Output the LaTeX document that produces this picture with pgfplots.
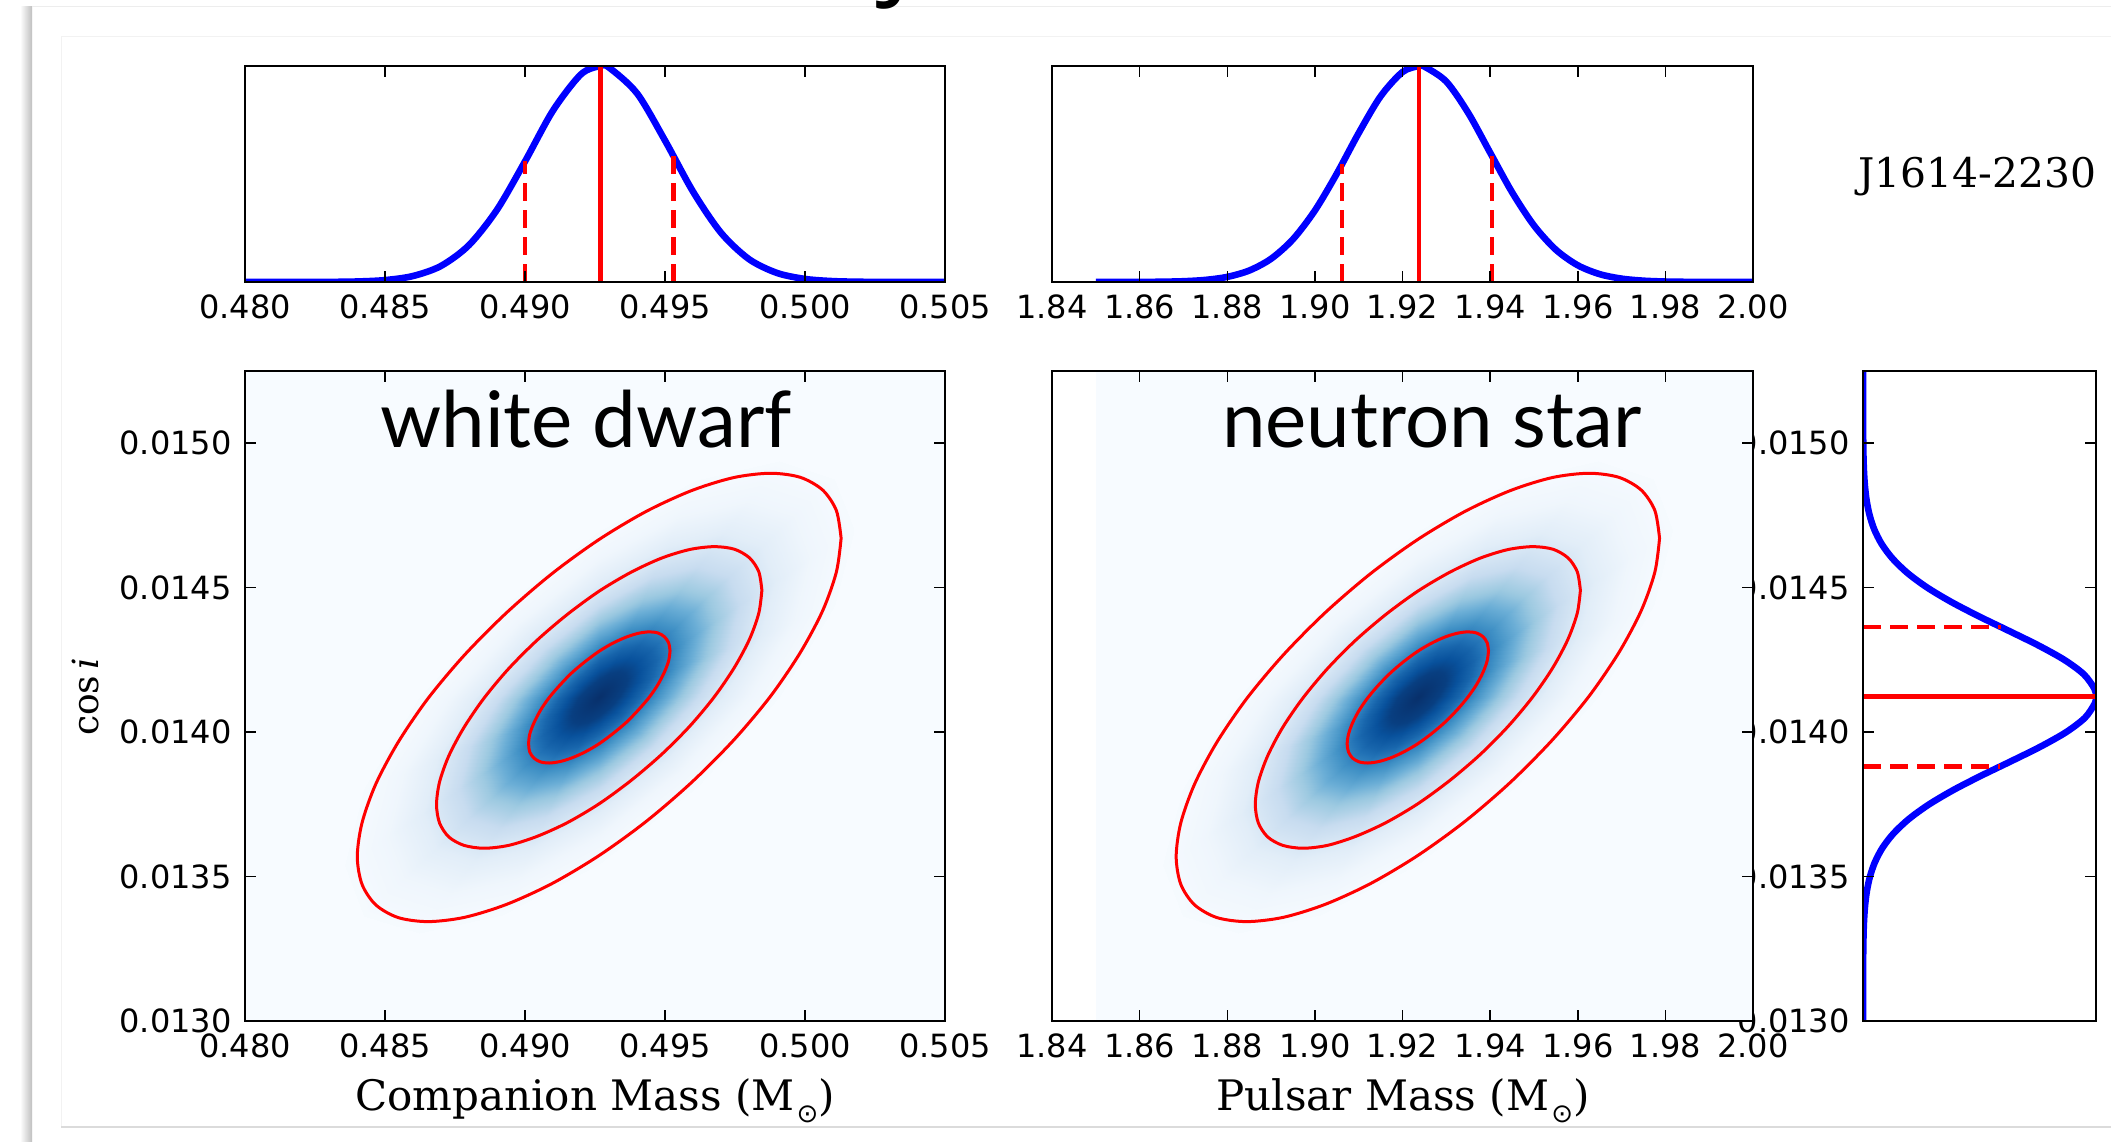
\documentclass[border=0pt]{standalone}
\usepackage{pgfplots}
\pgfplotsset{compat=1.18}
\usepackage{pgfplotstable}
\usepackage{fontspec}
\setmainfont{DejaVu Serif}
\newfontfamily\dvsans{DejaVu Sans}
\newfontfamily\gill{Lato}
\newfontfamily\titlefont{Open Sans}
\newcommand\tickfont{\dvsans\fontsize{16bp}{19bp}\selectfont}
\definecolor{blues0}{RGB}{247,251,255}

\pgfplotsset{
  colormap={blues}{rgb255=(247,251,255) rgb255=(222,235,247) rgb255=(198,219,239)
    rgb255=(158,202,225) rgb255=(107,174,214) rgb255=(66,146,198) rgb255=(33,113,181)
    rgb255=(8,81,156) rgb255=(8,48,107)},
  mpl/.style={scale only axis, anchor=south west, axis on top,
    scaled x ticks=false, scaled y ticks=false,
    tick align=inside, major tick length=5.5bp,
    tick style={line width=0.75bp, black},
    axis line style={line width=1.2bp, black},
    xticklabel style={font=\tickfont, inner sep=0pt, yshift=-6bp},
    yticklabel style={font=\tickfont, inner sep=0pt, xshift=-6.5bp},
    axis background/.style={fill=white}},
  sig/.style={red, line width=2.2bp},
  sigdash/.style={red, line width=2.3bp, dash pattern=on 9bp off 4.5bp},
  kde/.style={blue, line width=3.3bp, smooth},
  cont/.style={red, line width=1.5bp, smooth},
}

% joint density of (companion mass, pulsar mass, cos i) on elliptical rings
\pgfplotstableread{
mc mp ci z
0.49265 1.92350 0.014120 1
0.49265 1.92350 0.014120 1
0.49265 1.92350 0.014120 1
0.49265 1.92350 0.014120 1
0.49265 1.92350 0.014120 1
0.49265 1.92350 0.014120 1
0.49265 1.92350 0.014120 1
0.49265 1.92350 0.014120 1
0.49265 1.92350 0.014120 1
0.49265 1.92350 0.014120 1
0.49265 1.92350 0.014120 1
0.49265 1.92350 0.014120 1
0.49265 1.92350 0.014120 1
0.49265 1.92350 0.014120 1
0.49265 1.92350 0.014120 1
0.49265 1.92350 0.014120 1
0.49265 1.92350 0.014120 1
0.49366 1.92995 0.014185 0.944
0.49358 1.92946 0.014204 0.944
0.49336 1.92806 0.014211 0.944
0.49304 1.92597 0.014204 0.944
0.49265 1.92350 0.014184 0.944
0.49226 1.92103 0.014154 0.944
0.49194 1.91894 0.014120 0.944
0.49172 1.91754 0.014085 0.944
0.49164 1.91705 0.014056 0.944
0.49172 1.91754 0.014036 0.944
0.49194 1.91894 0.014029 0.944
0.49226 1.92103 0.014036 0.944
0.49265 1.92350 0.014056 0.944
0.49304 1.92597 0.014086 0.944
0.49336 1.92806 0.014120 0.944
0.49358 1.92946 0.014155 0.944
0.49366 1.92995 0.014185 0.944
0.49467 1.93640 0.014249 0.796
0.49452 1.93542 0.014288 0.796
0.49408 1.93263 0.014302 0.796
0.49342 1.92844 0.014288 0.796
0.49265 1.92350 0.014248 0.796
0.49188 1.91856 0.014189 0.796
0.49122 1.91438 0.014119 0.796
0.49078 1.91158 0.014050 0.796
0.49063 1.91060 0.013991 0.796
0.49078 1.91158 0.013952 0.796
0.49122 1.91438 0.013938 0.796
0.49188 1.91856 0.013953 0.796
0.49265 1.92350 0.013992 0.796
0.49342 1.92844 0.014051 0.796
0.49408 1.93263 0.014121 0.796
0.49452 1.93542 0.014190 0.796
0.49467 1.93640 0.014249 0.796
0.49568 1.94286 0.014313 0.598
0.49545 1.94138 0.014372 0.598
0.49479 1.93719 0.014392 0.598
0.49381 1.93091 0.014371 0.598
0.49265 1.92350 0.014312 0.598
0.49149 1.91609 0.014223 0.598
0.49051 1.90981 0.014119 0.598
0.48985 1.90562 0.014015 0.598
0.48962 1.90414 0.013927 0.598
0.48985 1.90562 0.013868 0.598
0.49051 1.90981 0.013848 0.598
0.49149 1.91609 0.013869 0.598
0.49265 1.92350 0.013928 0.598
0.49381 1.93091 0.014017 0.598
0.49479 1.93719 0.014121 0.598
0.49545 1.94138 0.014225 0.598
0.49568 1.94286 0.014313 0.598
0.49669 1.94931 0.014378 0.401
0.49638 1.94734 0.014456 0.401
0.49551 1.94175 0.014483 0.401
0.49420 1.93338 0.014455 0.401
0.49265 1.92350 0.014376 0.401
0.49110 1.91362 0.014258 0.401
0.48979 1.90525 0.014118 0.401
0.48892 1.89966 0.013980 0.401
0.48861 1.89769 0.013862 0.401
0.48892 1.89966 0.013784 0.401
0.48979 1.90525 0.013757 0.401
0.49110 1.91362 0.013785 0.401
0.49265 1.92350 0.013864 0.401
0.49420 1.93338 0.013982 0.401
0.49551 1.94175 0.014122 0.401
0.49638 1.94734 0.014260 0.401
0.49669 1.94931 0.014378 0.401
0.49770 1.95576 0.014442 0.240
0.49732 1.95330 0.014540 0.240
0.49622 1.94631 0.014574 0.240
0.49458 1.93585 0.014539 0.240
0.49265 1.92350 0.014440 0.240
0.49072 1.91116 0.014292 0.240
0.48908 1.90069 0.014118 0.240
0.48798 1.89370 0.013945 0.240
0.48760 1.89124 0.013798 0.240
0.48798 1.89370 0.013700 0.240
0.48908 1.90069 0.013666 0.240
0.49072 1.91116 0.013701 0.240
0.49265 1.92350 0.013800 0.240
0.49458 1.93585 0.013948 0.240
0.49622 1.94631 0.014122 0.240
0.49732 1.95330 0.014296 0.240
0.49770 1.95576 0.014442 0.240
0.49896 1.96383 0.014523 0.107
0.49848 1.96076 0.014645 0.107
0.49711 1.95202 0.014688 0.107
0.49507 1.93893 0.014643 0.107
0.49265 1.92350 0.014520 0.107
0.49023 1.90807 0.014335 0.107
0.48819 1.89499 0.014118 0.107
0.48682 1.88625 0.013901 0.107
0.48634 1.88318 0.013717 0.107
0.48682 1.88625 0.013595 0.107
0.48819 1.89499 0.013553 0.107
0.49023 1.90807 0.013597 0.107
0.49265 1.92350 0.013720 0.107
0.49507 1.93893 0.013905 0.107
0.49711 1.95202 0.014122 0.107
0.49848 1.96076 0.014339 0.107
0.49896 1.96383 0.014523 0.107
0.50023 1.97189 0.014604 0.040
0.49965 1.96821 0.014750 0.040
0.49801 1.95772 0.014801 0.040
0.49555 1.94202 0.014748 0.040
0.49265 1.92350 0.014600 0.040
0.48975 1.90498 0.014378 0.040
0.48729 1.88928 0.014117 0.040
0.48565 1.87879 0.013857 0.040
0.48508 1.87511 0.013637 0.040
0.48565 1.87879 0.013490 0.040
0.48729 1.88928 0.013439 0.040
0.48975 1.90498 0.013492 0.040
0.49265 1.92350 0.013640 0.040
0.49555 1.94202 0.013862 0.040
0.49801 1.95772 0.014123 0.040
0.49965 1.96821 0.014383 0.040
0.50023 1.97189 0.014604 0.040
0.50174 1.98157 0.014700 0.008
0.50105 1.97715 0.014876 0.008
0.49908 1.96456 0.014937 0.008
0.49613 1.94572 0.014874 0.008
0.49265 1.92350 0.014696 0.008
0.48917 1.90128 0.014430 0.008
0.48622 1.88244 0.014117 0.008
0.48425 1.86985 0.013804 0.008
0.48356 1.86543 0.013540 0.008
0.48425 1.86985 0.013364 0.008
0.48622 1.88244 0.013303 0.008
0.48917 1.90128 0.013366 0.008
0.49265 1.92350 0.013544 0.008
0.49613 1.94572 0.013810 0.008
0.49908 1.96456 0.014123 0.008
0.50105 1.97715 0.014436 0.008
0.50174 1.98157 0.014700 0.008
}\densgrid

% credible-region contours (inner, middle, outer)
\pgfplotstableread{
mc mp ci
0.49518 1.93963 0.014281
0.49513 1.93932 0.014309
0.49498 1.93840 0.014330
0.49475 1.93691 0.014343
0.49444 1.93491 0.014347
0.49405 1.93246 0.014342
0.49362 1.92967 0.014329
0.49314 1.92665 0.014308
0.49265 1.92350 0.014280
0.49216 1.92035 0.014245
0.49168 1.91733 0.014206
0.49125 1.91454 0.014163
0.49086 1.91209 0.014119
0.49055 1.91009 0.014075
0.49032 1.90860 0.014032
0.49017 1.90768 0.013993
0.49013 1.90737 0.013959
0.49017 1.90768 0.013931
0.49032 1.90860 0.013910
0.49055 1.91009 0.013897
0.49086 1.91209 0.013893
0.49125 1.91454 0.013898
0.49168 1.91733 0.013911
0.49216 1.92035 0.013932
0.49265 1.92350 0.013960
0.49314 1.92665 0.013995
0.49362 1.92967 0.014034
0.49405 1.93246 0.014077
0.49444 1.93491 0.014121
0.49475 1.93691 0.014165
0.49498 1.93840 0.014208
0.49513 1.93932 0.014247
0.49518 1.93963 0.014281
}\contA
\pgfplotstableread{
mc mp ci
0.49846 1.96060 0.014491
0.49835 1.95989 0.014555
0.49802 1.95778 0.014603
0.49748 1.95435 0.014633
0.49676 1.94973 0.014642
0.49588 1.94411 0.014632
0.49487 1.93770 0.014602
0.49378 1.93074 0.014553
0.49265 1.92350 0.014488
0.49152 1.91626 0.014408
0.49043 1.90930 0.014318
0.48942 1.90289 0.014220
0.48854 1.89727 0.014118
0.48782 1.89265 0.014016
0.48728 1.88923 0.013918
0.48695 1.88711 0.013828
0.48684 1.88640 0.013749
0.48695 1.88711 0.013685
0.48728 1.88923 0.013637
0.48782 1.89265 0.013608
0.48854 1.89727 0.013598
0.48942 1.90289 0.013608
0.49043 1.90930 0.013639
0.49152 1.91626 0.013687
0.49265 1.92350 0.013752
0.49378 1.93074 0.013832
0.49487 1.93770 0.013922
0.49588 1.94411 0.014020
0.49676 1.94973 0.014122
0.49748 1.95435 0.014224
0.49802 1.95778 0.014322
0.49835 1.95989 0.014412
0.49846 1.96060 0.014491
}\contB
\pgfplotstableread{
mc mp ci
0.50129 1.97867 0.014671
0.50112 1.97760 0.014767
0.50063 1.97447 0.014838
0.49983 1.96937 0.014882
0.49876 1.96251 0.014896
0.49745 1.95415 0.014881
0.49595 1.94461 0.014836
0.49433 1.93426 0.014764
0.49265 1.92350 0.014667
0.49097 1.91274 0.014549
0.48935 1.90239 0.014414
0.48785 1.89285 0.014268
0.48654 1.88449 0.014117
0.48547 1.87763 0.013965
0.48467 1.87254 0.013820
0.48418 1.86940 0.013686
0.48401 1.86834 0.013569
0.48418 1.86940 0.013473
0.48467 1.87254 0.013402
0.48547 1.87763 0.013358
0.48654 1.88449 0.013344
0.48785 1.89285 0.013359
0.48935 1.90239 0.013404
0.49097 1.91274 0.013476
0.49265 1.92350 0.013573
0.49433 1.93426 0.013691
0.49595 1.94461 0.013826
0.49745 1.95415 0.013972
0.49876 1.96251 0.014123
0.49983 1.96937 0.014275
0.50063 1.97447 0.014420
0.50112 1.97760 0.014554
0.50129 1.97867 0.014671
}\contC

\begin{document}
\begin{tikzpicture}
\fill[white] (0,0) rectangle (1055.5bp,571bp);
\useasboundingbox (0,0) rectangle (1055.5bp,571bp);
% slide edge, shadow and frame
\shade[left color=white, right color=black!25] (10bp,0) rectangle (16bp,567.5bp);
\draw[black!7, line width=0.5bp] (16bp,567.5bp) -- (1055.5bp,567.5bp);
\draw[black!5, line width=0.5bp] (30.5bp,552.5bp) -- (1055.5bp,552.5bp);
\draw[black!5, line width=0.5bp] (30.5bp,552.5bp) -- (30.5bp,7.5bp);
\draw[black!14, line width=0.6bp] (30.5bp,7.5bp) -- (1055.5bp,7.5bp);
% foot of the slide title, cut by the top edge
\node[anchor=base east, inner sep=0pt] at (456bp,575.5bp) {\titlefont\fontsize{50bp}{60bp}\selectfont J};

% marginal: companion mass
\begin{axis}[mpl, at={(122.5bp,430bp)}, width=350bp, height=108bp,
  xmin=0.480, xmax=0.505, ymin=0, ymax=1, ytick=\empty,
  xtick={0.480,0.485,0.490,0.495,0.500,0.505},
  xticklabels={0.480,0.485,0.490,0.495,0.500,0.505}]
\addplot[kde] coordinates {(0.480,0) (0.481,0) (0.482,0.0001) (0.483,0.0005)
  (0.484,0.0023) (0.485,0.0087) (0.486,0.0276) (0.487,0.0743) (0.488,0.1708)
  (0.489,0.3345) (0.490,0.5581) (0.491,0.7936) (0.492,0.9616) (0.4927,1)
  (0.493,0.9928) (0.494,0.8735) (0.495,0.6550) (0.496,0.4185) (0.497,0.2278)
  (0.498,0.1057) (0.499,0.0418) (0.500,0.0141) (0.501,0.0040) (0.502,0.0010)
  (0.503,0.0002) (0.504,0) (0.505,0)};
\addplot[sig] coordinates {(0.4927,0) (0.4927,1)};
\addplot[sigdash] coordinates {(0.4900,0) (0.4900,0.558)};
\addplot[sigdash] coordinates {(0.4953,0) (0.4953,0.582)};
\end{axis}

% marginal: pulsar mass
\begin{axis}[mpl, at={(526bp,430bp)}, width=350.5bp, height=108bp,
  xmin=1.84, xmax=2.00, ymin=0, ymax=1, ytick=\empty,
  xtick={1.84,1.86,1.88,1.90,1.92,1.94,1.96,1.98,2.00},
  xticklabels={1.84,1.86,1.88,1.90,1.92,1.94,1.96,1.98,2.00}]
\addplot[kde] coordinates {(1.850,0) (1.855,0.0001) (1.860,0.0004) (1.865,0.0012)
  (1.870,0.0035) (1.875,0.0096) (1.880,0.0236) (1.885,0.0529) (1.890,0.1074)
  (1.895,0.1979) (1.900,0.3308) (1.905,0.5014) (1.910,0.6894) (1.915,0.8596)
  (1.920,0.9722) (1.9238,1) (1.925,0.9972) (1.930,0.9277) (1.935,0.7827)
  (1.940,0.5989) (1.945,0.4157) (1.950,0.2617) (1.955,0.1494) (1.960,0.0773)
  (1.965,0.0363) (1.970,0.0155) (1.975,0.0060) (1.980,0.0021) (1.985,0.0007)
  (1.990,0.0002) (1.995,0) (2.000,0)};
\addplot[sig] coordinates {(1.9238,0) (1.9238,1)};
\addplot[sigdash] coordinates {(1.9062,0) (1.9062,0.546)};
\addplot[sigdash] coordinates {(1.9404,0) (1.9404,0.584)};
\end{axis}

% marginal: cos i
\begin{axis}[mpl, at={(931.5bp,60.5bp)}, width=116.5bp, height=325bp,
  xmin=0, xmax=1, ymin=0.0130, ymax=0.01525, xtick=\empty,
  ytick={0.0130,0.0135,0.0140,0.0145,0.0150},
  yticklabels={0.0130,0.0135,0.0140,0.0145,0.0150}]
\addplot[kde] coordinates {(0,0.01300) (0.0004,0.01320) (0.0022,0.01330)
  (0.0045,0.01335) (0.0088,0.01340) (0.0166,0.01345) (0.0298,0.01350)
  (0.0512,0.01355) (0.0840,0.01360) (0.1319,0.01365) (0.1979,0.01370)
  (0.2838,0.01375) (0.3888,0.01380) (0.5093,0.01385) (0.6375,0.01390)
  (0.7626,0.01395) (0.8720,0.01400) (0.9529,0.01405) (0.9952,0.01410)
  (1,0.014123) (0.9934,0.01415) (0.9477,0.01420) (0.8641,0.01425)
  (0.7530,0.01430) (0.6271,0.01435) (0.4992,0.01440) (0.3798,0.01445)
  (0.2761,0.01450) (0.1919,0.01455) (0.1275,0.01460) (0.0809,0.01465)
  (0.0491,0.01470) (0.0285,0.01475) (0.0158,0.01480) (0.0084,0.01485)
  (0.0042,0.01490) (0.0020,0.01495) (0.0009,0.01500) (0.0001,0.01510)
  (0,0.01525)};
\addplot[sig] coordinates {(0,0.014123) (1,0.014123)};
\addplot[sigdash] coordinates {(0,0.013881) (0.588,0.013881)};
\addplot[sigdash] coordinates {(0,0.014364) (0.591,0.014364)};
\end{axis}

% joint: companion mass vs cos i
\begin{axis}[mpl, at={(122.5bp,60.5bp)}, width=350bp, height=325bp,
  xmin=0.480, xmax=0.505, ymin=0.0130, ymax=0.01525,
  colormap name=blues, point meta min=0, point meta max=1,
  xtick={0.480,0.485,0.490,0.495,0.500,0.505},
  xticklabels={0.480,0.485,0.490,0.495,0.500,0.505},
  ytick={0.0130,0.0135,0.0140,0.0145,0.0150},
  yticklabels={0.0130,0.0135,0.0140,0.0145,0.0150}]
\addplot[draw=none, fill=blues0] coordinates {(0.480,0.0130) (0.505,0.0130) (0.505,0.01525) (0.480,0.01525)};
\addplot[surf, shader=interp, mesh/cols=17, point meta=\thisrow{z}] table[x=mc, y=ci] {\densgrid};
\addplot[cont] table[x=mc, y=ci] {\contA};
\addplot[cont] table[x=mc, y=ci] {\contB};
\addplot[cont] table[x=mc, y=ci] {\contC};
\end{axis}

% joint: pulsar mass vs cos i
\begin{axis}[mpl, at={(526bp,60.5bp)}, width=350.5bp, height=325bp,
  xmin=1.84, xmax=2.00, ymin=0.0130, ymax=0.01525,
  colormap name=blues, point meta min=0, point meta max=1,
  xtick={1.84,1.86,1.88,1.90,1.92,1.94,1.96,1.98,2.00},
  xticklabels={1.84,1.86,1.88,1.90,1.92,1.94,1.96,1.98,2.00},
  ytick={0.0130,0.0135,0.0140,0.0145,0.0150}, yticklabels={}, ytick pos=right]
\addplot[draw=none, fill=blues0] coordinates {(1.85,0.0130) (2.00,0.0130) (2.00,0.01525) (1.85,0.01525)};
\addplot[surf, shader=interp, mesh/cols=17, point meta=\thisrow{z}] table[x=mp, y=ci] {\densgrid};
\addplot[cont] table[x=mp, y=ci] {\contA};
\addplot[cont] table[x=mp, y=ci] {\contB};
\addplot[cont] table[x=mp, y=ci] {\contC};
\end{axis}

% labels
\node[anchor=base] at (293bp,347bp) {\gill\fontsize{39bp}{44bp}\selectfont white dwarf};
\node[anchor=base] at (716bp,347bp) {\gill\fontsize{39bp}{44bp}\selectfont neutron star};
\node[anchor=base] at (297.5bp,16bp) {\fontsize{21bp}{25bp}\selectfont Companion Mass (M\kern1bp\raisebox{-6bp}{\dvsans\fontsize{13bp}{13bp}\selectfont ⊙})};
\node[anchor=base] at (701.5bp,16bp) {\fontsize{21bp}{25bp}\selectfont Pulsar Mass (M\kern1bp\raisebox{-6bp}{\dvsans\fontsize{13bp}{13bp}\selectfont ⊙})};
\node[rotate=90] at (43bp,222.5bp) {\fontsize{18bp}{22bp}\selectfont cos\,\textit{i}};
\node[anchor=base west, inner sep=0pt] at (929bp,477bp) {\fontsize{20.4bp}{24bp}\selectfont J1614-2230};
\end{tikzpicture}
\end{document}
